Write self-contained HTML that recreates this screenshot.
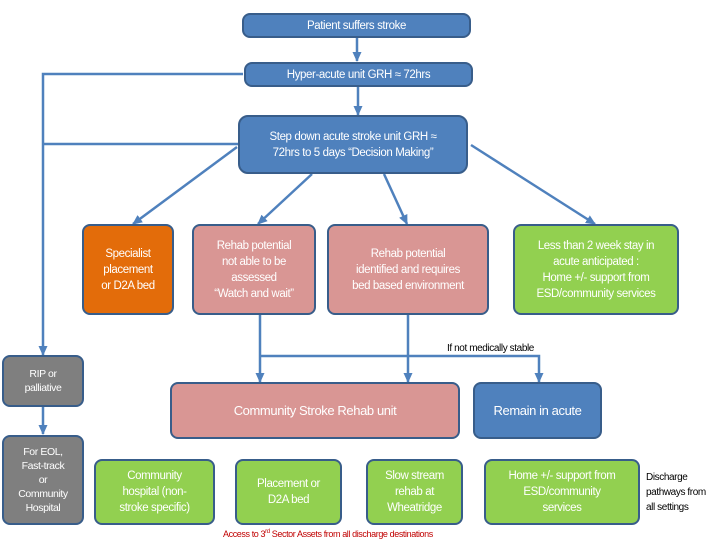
<!DOCTYPE html>
<html><head><meta charset="utf-8"><style>
body{margin:0;width:720px;height:540px;background:#fff;position:relative;overflow:hidden;font-family:"Liberation Sans",sans-serif}
.b{position:absolute;box-sizing:border-box;border:2.5px solid #385d8a;border-radius:8px;color:#fff;display:flex;align-items:center;justify-content:center;text-align:center;font-size:11.5px;line-height:16px;letter-spacing:-0.4px}
.bl{background:#4f81bd}.or{background:#e36c0a}.pk{background:#d99694}.gr{background:#92d050}.gy{background:#7f7f7f}
.t{position:absolute;font-size:10px;color:#000;letter-spacing:-0.4px}
</style></head><body>
<svg width="720" height="540" style="position:absolute;left:0;top:0">
<defs><marker id="a" markerUnits="userSpaceOnUse" markerWidth="10" markerHeight="10" refX="9" refY="5" orient="auto"><path d="M0,0.5L10,5L0,9.5z" fill="#4f81bd"/></marker></defs>
<g stroke="#4f81bd" stroke-width="2.5" fill="none">
<line x1="357" y1="38" x2="357" y2="61" marker-end="url(#a)"/>
<line x1="358" y1="87" x2="358" y2="115" marker-end="url(#a)"/>
<polyline points="243,74 43,74 43,355" marker-end="url(#a)"/>
<line x1="238" y1="144" x2="43" y2="144"/>
<line x1="43" y1="407" x2="43" y2="434" marker-end="url(#a)"/>
<line x1="237" y1="147" x2="133" y2="224" marker-end="url(#a)"/>
<line x1="312" y1="174" x2="258" y2="224" marker-end="url(#a)"/>
<line x1="384" y1="174" x2="407" y2="224" marker-end="url(#a)"/>
<line x1="471" y1="145" x2="595" y2="224" marker-end="url(#a)"/>
<line x1="260" y1="312" x2="260" y2="382" marker-end="url(#a)"/>
<line x1="408" y1="312" x2="408" y2="382" marker-end="url(#a)"/>
<polyline points="260,356 539,356 539,382" marker-end="url(#a)"/>
</g></svg>
<div class="b bl" style="left:242px;top:13px;width:229px;height:25px">Patient suffers stroke</div>
<div class="b bl" style="left:244px;top:62px;width:229px;height:25px">Hyper-acute unit GRH ≈ 72hrs</div>
<div class="b bl" style="left:238px;top:115px;width:230px;height:59px;border-radius:10px">Step down acute stroke unit GRH ≈<br>72hrs to 5 days “Decision Making”</div>
<div class="b or" style="left:82px;top:224px;width:92px;height:91px">Specialist<br>placement<br>or D2A bed</div>
<div class="b pk" style="left:192px;top:224px;width:124px;height:91px">Rehab potential<br>not able to be<br>assessed<br>“Watch and wait”</div>
<div class="b pk" style="left:327px;top:224px;width:162px;height:91px">Rehab potential<br>identified and requires<br>bed based environment</div>
<div class="b gr" style="left:513px;top:224px;width:166px;height:91px">Less than 2 week stay in<br>acute anticipated :<br>Home +/- support from<br>ESD/community services</div>
<div class="t" style="left:447px;top:343px">If not medically stable</div>
<div class="b gy" style="left:2px;top:355px;width:82px;height:52px;font-size:10.5px;line-height:14px">RIP or<br>palliative</div>
<div class="b gy" style="left:2px;top:435px;width:82px;height:90px;font-size:10.5px;line-height:14px">For EOL,<br>Fast-track<br>or<br>Community<br>Hospital</div>
<div class="b pk" style="left:170px;top:382px;width:290px;height:57px;font-size:13px">Community Stroke Rehab unit</div>
<div class="b bl" style="left:473px;top:382px;width:129px;height:57px;font-size:13px">Remain in acute</div>
<div class="b gr" style="left:94px;top:459px;width:121px;height:66px">Community<br>hospital (non-<br>stroke specific)</div>
<div class="b gr" style="left:235px;top:459px;width:107px;height:66px">Placement or<br>D2A bed</div>
<div class="b gr" style="left:366px;top:459px;width:97px;height:66px">Slow stream<br>rehab at<br>Wheatridge</div>
<div class="b gr" style="left:484px;top:459px;width:156px;height:66px">Home +/- support from<br>ESD/community<br>services</div>
<div class="t" style="left:646px;top:470px;line-height:15px">Discharge<br>pathways from<br>all settings</div>
<div class="t" style="left:223px;top:529px;color:#c00000;font-size:9px">Access to 3<sup style="font-size:6px">rd</sup> Sector Assets from all discharge destinations</div>
</body></html>
